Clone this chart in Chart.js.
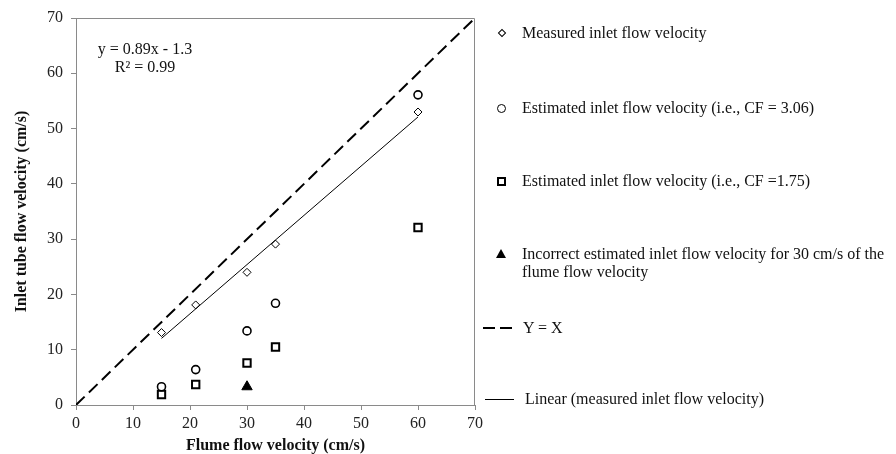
<!DOCTYPE html>
<html lang="en">
<head>
    <meta charset="UTF-8">
    <title>Inlet tube vs flume flow velocity</title>
    <style>
        body { margin: 0; background: #fff; }
        #wrap { position: relative; width: 896px; height: 454px; font-family: "Liberation Serif", "Times New Roman", serif; }
        #chart { position: absolute; left: 0; top: 0; }
        .lg-text { position: absolute; font-size: 16px; line-height: 18px; color: #111; white-space: nowrap; }
        .mk { position: absolute; box-sizing: border-box; }
        .eq { position: absolute; font-size: 16px; line-height: 18px; color: #111; text-align: center; width: 120px; }
    </style>
</head>
<body>
<div id="wrap">
    <canvas id="chart" width="896" height="454"></canvas>

    <!-- trendline equation -->
    <div class="eq" style="left:85px; top:40px;">y = 0.89x - 1.3</div>
    <div class="eq" style="left:85px; top:58px;">R² = 0.99</div>

    <!-- legend -->
    <div class="mk" style="left:499px; top:30px; width:6px; height:6px; border:1px solid #000; transform:rotate(45deg);"></div>
    <div class="lg-text" style="left:522px; top:24px;">Measured inlet flow velocity</div>

    <div class="mk" style="left:497px; top:104px; width:9px; height:9px; border:1.6px solid #000; border-radius:50%;"></div>
    <div class="lg-text" style="left:522px; top:99px;">Estimated inlet flow velocity (i.e., CF = 3.06)</div>

    <div class="mk" style="left:497px; top:177px; width:9px; height:9px; border:2px solid #000;"></div>
    <div class="lg-text" style="left:522px; top:172px;">Estimated inlet flow velocity (i.e., CF =1.75)</div>

    <div class="mk" style="left:496px; top:249px; width:0; height:0; border-left:5px solid transparent; border-right:5px solid transparent; border-bottom:9px solid #000;"></div>
    <div class="lg-text" style="left:522px; top:245px;">Incorrect estimated inlet flow velocity for 30 cm/s of the</div>
    <div class="lg-text" style="left:522px; top:263px;">flume flow velocity</div>

    <div class="mk" style="left:483px; top:327px; width:12px; height:2px; background:#000;"></div>
    <div class="mk" style="left:500px; top:327px; width:12px; height:2px; background:#000;"></div>
    <div class="lg-text" style="left:523px; top:319px;">Y = X</div>

    <div class="mk" style="left:485px; top:399px; width:29px; height:1px; background:#000;"></div>
    <div class="lg-text" style="left:525px; top:390px;">Linear (measured inlet flow velocity)</div>
</div>

<script src="https://cdn.jsdelivr.net/npm/chart.js"></script>
<script>
    // Values (cm/s)
    const flumeVelocity = [15, 21, 30, 35, 60];
    const measuredInlet = [13.1, 18.1, 24.0, 29.1, 53.0];
    const estimatedCF306 = [3.3, 6.4, 13.4, 18.4, 56.1];
    const estimatedCF175 = [1.9, 3.7, 7.6, 10.5, 32.1];
    const incorrectX = [30];
    const incorrectY = [3.3];
    const trendX = [15, 60];
    const trendY = [12.05, 52.1];
    const identityX = [0, 70];
    const identityY = [0, 70];
    const axisMin = 0;
    const axisMax = 70;
    const axisStep = 10;

    function pairs(xs, ys) {
        return xs.map((x, i) => ({ x: x, y: ys[i] }));
    }

    const axisGray = '#8a8a8a';
    const serif = '"Liberation Serif", "Times New Roman", serif';

    // top and right edges of the plot box
    const frameBox = {
        id: 'frameBox',
        afterDraw(chart) {
            const a = chart.chartArea;
            const ctx = chart.ctx;
            ctx.save();
            ctx.strokeStyle = axisGray;
            ctx.lineWidth = 1;
            ctx.beginPath();
            ctx.moveTo(a.left, a.top + 0.5);
            ctx.lineTo(a.right - 0.5, a.top + 0.5);
            ctx.lineTo(a.right - 0.5, a.bottom);
            ctx.stroke();
            ctx.restore();
        }
    };

    const ctx = document.getElementById('chart').getContext('2d');
    new Chart(ctx, {
        type: 'scatter',
        data: {
            datasets: [
                {
                    label: 'Y = X',
                    type: 'line',
                    data: pairs(identityX, identityY),
                    borderColor: '#000',
                    borderWidth: 2,
                    borderDash: [12, 6],
                    pointRadius: 0,
                    fill: false
                },
                {
                    label: 'Linear (measured inlet flow velocity)',
                    type: 'line',
                    data: pairs(trendX, trendY),
                    borderColor: '#000',
                    borderWidth: 1,
                    pointRadius: 0,
                    fill: false
                },
                {
                    label: 'Measured inlet flow velocity',
                    data: pairs(flumeVelocity, measuredInlet),
                    pointStyle: 'rectRot',
                    pointRadius: 4,
                    backgroundColor: '#fff',
                    borderColor: '#000',
                    borderWidth: 1
                },
                {
                    label: 'Estimated inlet flow velocity (i.e., CF = 3.06)',
                    data: pairs(flumeVelocity, estimatedCF306),
                    pointStyle: 'circle',
                    pointRadius: 4,
                    backgroundColor: '#fff',
                    borderColor: '#000',
                    borderWidth: 1.6
                },
                {
                    label: 'Estimated inlet flow velocity (i.e., CF =1.75)',
                    data: pairs(flumeVelocity, estimatedCF175),
                    pointStyle: 'rect',
                    pointRadius: 5.2,
                    backgroundColor: '#fff',
                    borderColor: '#000',
                    borderWidth: 2
                },
                {
                    label: 'Incorrect estimated inlet flow velocity for 30 cm/s of the flume flow velocity',
                    data: pairs(incorrectX, incorrectY),
                    pointStyle: 'triangle',
                    pointRadius: 6,
                    backgroundColor: '#000',
                    borderColor: '#000',
                    borderWidth: 1
                }
            ]
        },
        options: {
            responsive: false,
            animation: false,
            layout: { padding: { top: 18, right: 421, bottom: 0, left: 0 } },
            plugins: {
                legend: { display: false },
                tooltip: { enabled: false }
            },
            scales: {
                x: {
                    type: 'linear',
                    min: axisMin,
                    max: axisMax,
                    afterFit(scale) { scale.height = 49; },
                    ticks: {
                        stepSize: axisStep,
                        padding: 4,
                        color: '#222',
                        font: { family: serif, size: 16 }
                    },
                    grid: { drawOnChartArea: false, drawTicks: true, tickLength: 5, color: axisGray },
                    border: { display: true, color: axisGray, width: 1 },
                    title: {
                        display: true,
                        text: 'Flume flow velocity (cm/s)',
                        color: '#111',
                        padding: { top: 0, bottom: 0 },
                        font: { family: serif, size: 16, weight: 'bold', lineHeight: 1 }
                    }
                },
                y: {
                    type: 'linear',
                    min: axisMin,
                    max: axisMax,
                    afterFit(scale) { scale.width = 76; },
                    ticks: {
                        stepSize: axisStep,
                        padding: 8,
                        color: '#222',
                        font: { family: serif, size: 16 }
                    },
                    grid: { drawOnChartArea: false, drawTicks: true, tickLength: 5, color: axisGray },
                    border: { display: true, color: axisGray, width: 1 },
                    title: {
                        display: true,
                        text: 'Inlet tube flow velocity (cm/s)',
                        color: '#111',
                        padding: { top: 14, bottom: 0 },
                        font: { family: serif, size: 16, weight: 'bold', lineHeight: 1 }
                    }
                }
            }
        },
        plugins: [frameBox]
    });
</script>
</body>
</html>
